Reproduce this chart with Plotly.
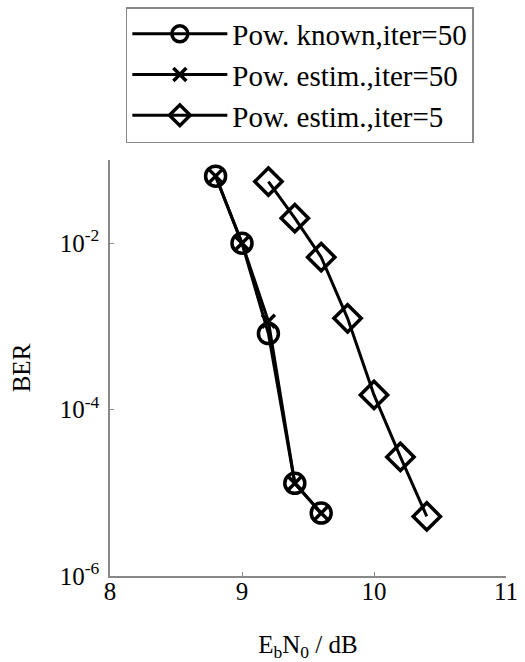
import plotly.graph_objects as go

snr_50 = [8.8, 9.0, 9.2, 9.4, 9.6]
ber_known_50 = [6.4e-2, 1.0e-2, 8.2e-4, 1.3e-5, 5.7e-6]
ber_estim_50 = [6.4e-2, 1.0e-2, 1.15e-3, 1.3e-5, 5.7e-6]
snr_5 = [9.2, 9.4, 9.6, 9.8, 10.0, 10.2, 10.4]
ber_estim_5 = [5.5e-2, 2.0e-2, 6.8e-3, 1.25e-3, 1.5e-4, 2.7e-5, 5.2e-6]

names = ["Pow. known,iter=50", "Pow. estim.,iter=50", "Pow. estim.,iter=5"]
ytick_vals = [1e-6, 1e-4, 1e-2]
ytick_text = ["10<sup>-6</sup>", "10<sup>-4</sup>", "10<sup>-2</sup>"]
xtick_vals = [8, 9, 10, 11]

font = "Liberation Serif"

fig = go.Figure()
fig.add_trace(go.Scatter(x=snr_50, y=ber_known_50, name=names[0], mode="lines+markers",
                         line=dict(color="black", width=3),
                         marker=dict(symbol="circle-open", size=20, color="black", line=dict(width=3.5))))
fig.add_trace(go.Scatter(x=snr_50, y=ber_estim_50, name=names[1], mode="lines+markers",
                         line=dict(color="black", width=3),
                         marker=dict(symbol="x-thin-open", size=13, color="black", line=dict(width=3.5))))
fig.add_trace(go.Scatter(x=snr_5, y=ber_estim_5, name=names[2], mode="lines+markers",
                         line=dict(color="black", width=3),
                         marker=dict(symbol="diamond-open", size=21, color="black", line=dict(width=3.5))))

fig.update_layout(
    width=525, height=662,
    margin=dict(l=110, r=13, t=7, b=86),
    paper_bgcolor="white", plot_bgcolor="white",
    font=dict(family=font, size=24, color="black"),
    showlegend=True,
    legend=dict(x=0.04, y=1.0, xanchor="left", yanchor="top",
                bordercolor="#888888", borderwidth=1.5, bgcolor="white",
                font=dict(family=font, size=29), itemwidth=95, tracegroupgap=0),
    xaxis=dict(range=[8, 11], tickvals=xtick_vals, ticks="inside", ticklen=4,
               tickcolor="#888888", showline=True, linecolor="#888888", linewidth=1.5,
               showgrid=False, zeroline=False, tickfont=dict(size=25), ticklabelstandoff=-8,
               title=dict(text="E<sub>b</sub>N<sub>0</sub> / dB", font=dict(size=25), standoff=32)),
    yaxis=dict(type="log", range=[-6, -1], domain=[0, 416 / 569], tickvals=ytick_vals,
               ticktext=ytick_text,
               ticks="inside", ticklen=4, tickcolor="#888888", showline=True,
               linecolor="#888888", linewidth=1.5, showgrid=False, zeroline=False,
               tickfont=dict(size=25), ticklabelstandoff=4,
               title=dict(text="BER", font=dict(size=25), standoff=22)),
)

fig.write_html("out.html")
